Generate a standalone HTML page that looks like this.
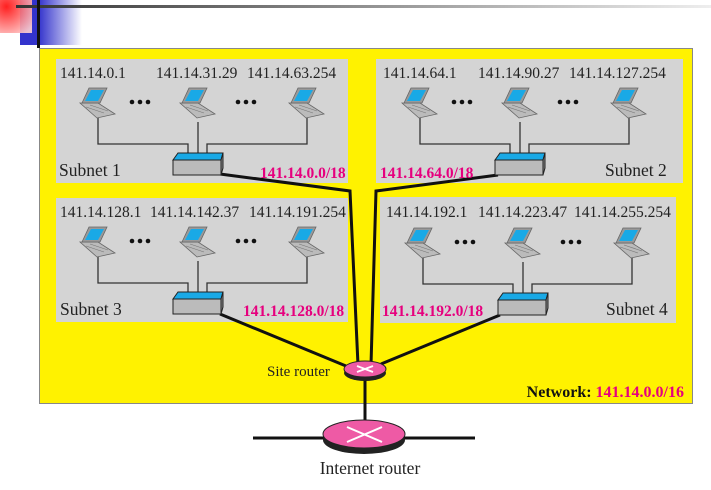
<!DOCTYPE html>
<html><head><meta charset="utf-8"><style>
body{margin:0;background:#fff;width:711px;height:485px;overflow:hidden}
svg text{font-family:"Liberation Serif",serif}
</style></head><body>
<svg width="711" height="485" viewBox="0 0 711 485" xmlns="http://www.w3.org/2000/svg">
<defs>
<linearGradient id="hl" x1="0" x2="1"><stop offset="0" stop-color="#333"/><stop offset="1" stop-color="#eee"/></linearGradient>
<linearGradient id="bl" x1="0" x2="1"><stop offset="0.3" stop-color="#3333cc"/><stop offset="1" stop-color="#fff"/></linearGradient>
<radialGradient id="rd" cx="0.2" cy="0.2" r="1"><stop offset="0" stop-color="#ff2020"/><stop offset="1" stop-color="#ffd0d0"/></radialGradient>
<g id="lap">
<polygon points="0,16 18,16 35,27 17,31" fill="#bbb" stroke="#666" stroke-width="0.8"/>
<polygon points="2,16 9,1 27,1 20,16" fill="#999" stroke="#666" stroke-width="0.8"/>
<polygon points="5,14 11,3 24,3 18,14" fill="#19a9e6"/>
<line x1="6" y1="20" x2="24" y2="26" stroke="#777" stroke-width="0.6"/>
<line x1="10" y1="18" x2="28" y2="24" stroke="#777" stroke-width="0.6"/>
</g>
<g id="sw">
<polygon points="0,7 5,0 50,0 48,7" fill="#19a9e6" stroke="#222" stroke-width="1"/>
<rect x="0" y="7" width="48" height="15" fill="#bbb" stroke="#222" stroke-width="1"/>
<polygon points="48,7 50,0 50,15 48,22" fill="#888" stroke="#222" stroke-width="1"/>
</g>
<g id="dots" fill="#111"><circle cx="0" cy="0" r="2.3"/><circle cx="8" cy="0" r="2.3"/><circle cx="16" cy="0" r="2.3"/></g>
</defs>
<rect x="0" y="0" width="32" height="33" fill="url(#rd)"/>
<rect x="20" y="0" width="62" height="45" fill="url(#bl)"/>
<rect x="0" y="0" width="32" height="33" fill="url(#rd)" opacity="0.9"/>
<rect x="16" y="5" width="695" height="3" fill="url(#hl)"/>
<rect x="37" y="0" width="3" height="48" fill="#111"/>

<rect x="39.5" y="48.5" width="653" height="355" fill="#fff200" stroke="#888" stroke-width="1"/>

<rect x="56" y="59" width="292" height="124" fill="#d4d4d4"/>
<rect x="376" y="59" width="307" height="124" fill="#d4d4d4"/>
<rect x="56" y="198" width="292" height="124" fill="#d4d4d4"/>
<rect x="380" y="197" width="296" height="126" fill="#d4d4d4"/>

<g stroke="#111" stroke-width="3" fill="none">
<polyline points="220,174 350,191 358,365"/>
<polyline points="498,175 376,191 371,365"/>
<line x1="220" y1="314" x2="346" y2="366"/>
<line x1="500" y1="315" x2="381" y2="364"/>
<line x1="365" y1="378" x2="365" y2="422"/>
<line x1="253" y1="438" x2="475" y2="438"/>
</g>

<g id="sub1">
<g stroke="#333" stroke-width="1.3" fill="none">
<polyline points="98,118 98,144 188,144 188,153"/>
<line x1="198" y1="122" x2="198" y2="153"/>
<polyline points="307,118 307,144 207,144 207,153"/>
</g>
<use href="#lap" x="80" y="87"/>
<use href="#lap" x="180" y="87"/>
<use href="#lap" x="289" y="87"/>
<use href="#dots" x="132" y="102"/>
<use href="#dots" x="238" y="102"/>
<use href="#sw" x="173" y="153"/>
</g>
<use href="#sub1" x="322" y="0"/>
<use href="#sub1" x="0" y="139"/>
<use href="#sub1" x="325" y="140"/>

<g font-size="15.5" fill="#222">
<text x="60" y="78">141.14.0.1</text>
<text x="156" y="78">141.14.31.29</text>
<text x="247" y="78">141.14.63.254</text>
<text x="383" y="78">141.14.64.1</text>
<text x="478" y="78">141.14.90.27</text>
<text x="569" y="78">141.14.127.254</text>
<text x="60" y="217">141.14.128.1</text>
<text x="150" y="217">141.14.142.37</text>
<text x="249" y="217">141.14.191.254</text>
<text x="386" y="217">141.14.192.1</text>
<text x="478" y="217">141.14.223.47</text>
<text x="574" y="217">141.14.255.254</text>
</g>
<g font-size="17.5" fill="#222">
<text x="59" y="176">Subnet 1</text>
<text x="605" y="176">Subnet 2</text>
<text x="60" y="315">Subnet 3</text>
<text x="606" y="315">Subnet 4</text>
</g>
<g font-size="15.5" font-weight="bold" fill="#e6007e">
<text x="260" y="178">141.14.0.0/18</text>
<text x="380" y="178">141.14.64.0/18</text>
<text x="243" y="316">141.14.128.0/18</text>
<text x="382" y="316">141.14.192.0/18</text>
</g>

<ellipse cx="365" cy="373" rx="21" ry="8" fill="#222"/>
<ellipse cx="365" cy="369" rx="21" ry="8" fill="#ee5aa5" stroke="#222" stroke-width="1"/>
<g stroke="#fff" stroke-width="1.8"><line x1="357" y1="366" x2="373" y2="372"/><line x1="357" y1="372" x2="373" y2="366"/></g>
<ellipse cx="364" cy="440" rx="41" ry="14" fill="#222"/>
<ellipse cx="364" cy="434" rx="41" ry="14" fill="#ee5aa5" stroke="#222" stroke-width="1"/>
<g stroke="#fff" stroke-width="2"><line x1="347" y1="427" x2="382" y2="442"/><line x1="347" y1="442" x2="382" y2="427"/></g>

<text x="267" y="376" font-size="15" fill="#222">Site router</text>
<text x="370" y="474" font-size="17.5" fill="#222" text-anchor="middle">Internet router</text>
<text x="684" y="397" font-size="16" font-weight="bold" text-anchor="end" fill="#111">Network: <tspan fill="#e6007e">141.14.0.0/16</tspan></text>
</svg>
</body></html>
